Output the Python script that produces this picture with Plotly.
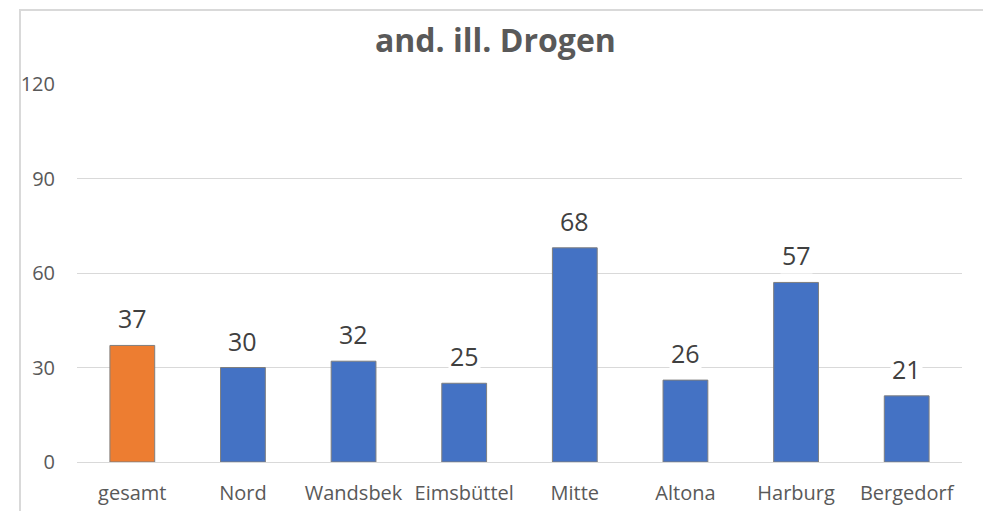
import plotly.graph_objects as go

categories = ["gesamt", "Nord", "Wandsbek", "Eimsbüttel", "Mitte", "Altona", "Harburg", "Bergedorf"]
values = [37, 30, 32, 25, 68, 26, 57, 21]
bar_colors = ["#ED7D31", "#4472C4", "#4472C4", "#4472C4", "#4472C4", "#4472C4", "#4472C4", "#4472C4"]
y_ticks = [0, 30, 60, 90, 120]
title_text = "and. ill. Drogen"

# page has an 8px body margin; plot area in page pixels: x 77..962, y 84..462
PL, PR, PT, PB = 77, 962, 84, 462
OFF = 8
W, H = 991 - OFF, 511 - OFF
pw, ph = PR - PL, PB - PT

fig = go.Figure()
fig.add_trace(go.Bar(
    x=categories, y=values,
    marker=dict(color=bar_colors, line=dict(color="#7F7F7F", width=1)),
    width=0.405,
    hoverinfo="x+y",
))

for c, v in zip(categories, values):
    fig.add_annotation(
        x=c, y=v, xref="x", yref="y", text=str(v), showarrow=False,
        yanchor="middle", yshift=27, bgcolor="white", borderpad=1,
        font=dict(family="Open Sans", size=25, color="#404040"),
    )

fig.add_annotation(
    x=(495 - PL) / pw, y=(PB - 40) / ph, xref="paper", yref="paper",
    text="<b>" + title_text + "</b>",
    showarrow=False, xanchor="center", yanchor="middle",
    font=dict(family="Open Sans", size=32, color="#595959"),
)

fig.add_shape(
    type="rect", xref="paper", yref="paper",
    x0=(20 - PL) / pw, x1=(988 - PL) / pw, y0=-0.3, y1=(PB - 10) / ph,
    line=dict(color="#D9D9D9", width=2), fillcolor="rgba(0,0,0,0)", layer="below",
)

fig.update_layout(
    width=W, height=H,
    margin=dict(l=PL - OFF, r=991 - PR, t=PT - OFF, b=511 - PB, autoexpand=False),
    paper_bgcolor="white", plot_bgcolor="white",
    showlegend=False,
    font=dict(family="Open Sans", color="#595959"),
    xaxis=dict(
        range=[-0.5, 7.5], showgrid=False, showline=False, zeroline=False, automargin=False,
        tickfont=dict(size=20, color="#595959"), ticks="", ticklabelstandoff=17,
    ),
    yaxis=dict(
        range=[0, 120], tickvals=y_ticks, showgrid=True, gridcolor="#D9D9D9", gridwidth=1,
        zeroline=True, zerolinecolor="#D9D9D9", zerolinewidth=1, showline=False, automargin=False,
        tickfont=dict(size=20, color="#595959"), ticks="", ticklabelstandoff=21,
    ),
)

fig.write_html("out.html")
